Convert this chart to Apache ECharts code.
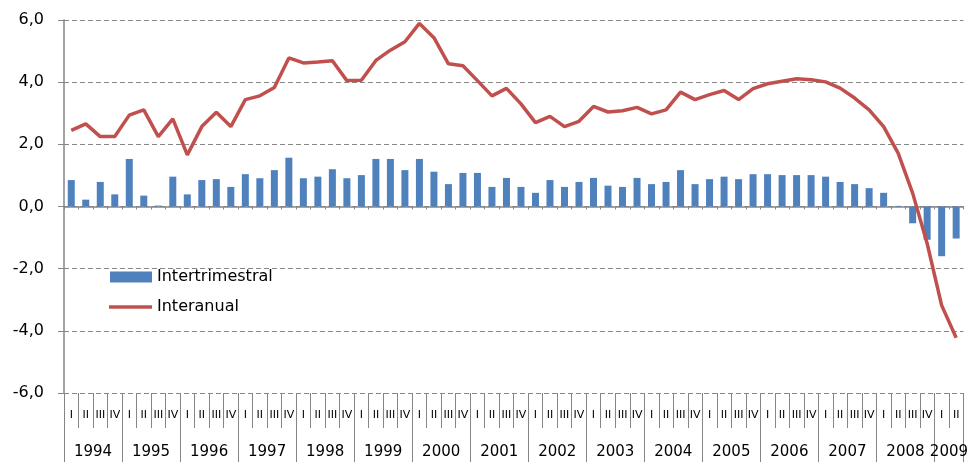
<!DOCTYPE html>
<html>
<head>
<meta charset="utf-8">
<script src="https://cdn.jsdelivr.net/npm/echarts@6/dist/echarts.min.js"></script>
<style>
html,body{margin:0;padding:0;background:#fff;}
#chart{width:971px;height:462px;}
</style>
</head>
<body>
<div id="chart"></div>
<script>
// ---- data ----
const years = ['1994','1995','1996','1997','1998','1999','2000','2001','2002','2003','2004','2005','2006','2007','2008','2009'];
const quarterNames = ['I','II','III','IV'];
const nQuarters = 62;

const intertrimestral = [
  0.85,0.22,0.79,0.39,1.53,0.35,0.03,0.96,
  0.39,0.85,0.88,0.63,1.04,0.91,1.17,1.57,
  0.91,0.96,1.20,0.91,1.01,1.53,1.53,1.17,
  1.53,1.12,0.72,1.08,1.08,0.63,0.92,0.63,
  0.44,0.85,0.63,0.79,0.92,0.67,0.63,0.92,
  0.72,0.79,1.17,0.72,0.88,0.96,0.88,1.04,
  1.04,1.01,1.01,1.01,0.96,0.79,0.72,0.59,
  0.44,0.02,-0.54,-1.07,-1.60,-1.03
];
const interanual = [
  2.45,2.66,2.25,2.25,2.94,3.11,2.25,2.82,
  1.66,2.57,3.03,2.57,3.44,3.56,3.83,4.78,
  4.62,4.65,4.69,4.05,4.06,4.70,5.03,5.30,
  5.89,5.43,4.59,4.53,4.05,3.56,3.80,3.30,
  2.70,2.90,2.57,2.74,3.22,3.04,3.08,3.19,
  2.98,3.11,3.68,3.44,3.60,3.73,3.44,3.79,
  3.95,4.03,4.11,4.08,4.01,3.81,3.49,3.11,
  2.57,1.72,0.43,-1.19,-3.18,-4.22
];
const yTicks = {min: -6, max: 6, interval: 2};

// category labels built from the arrays above
const catIds = [];
const quarterLabels = [];
const yearLabels = [];
for (let i = 0; i < nQuarters; i++) {
  const y = years[Math.floor(i / 4)];
  const q = quarterNames[i % 4];
  catIds.push(y + ' ' + q);
  quarterLabels.push(q);
  yearLabels.push(y);
}

const FONT = 'DejaVu Sans';
const GRAY = '#868686';
const gridLeft = 64, gridRight = 4;
const catW = (971 - gridLeft - gridRight) / nQuarters;

const chart = echarts.init(document.getElementById('chart'), null, {renderer: 'canvas'});
chart.setOption({
  animation: false,
  backgroundColor: '#ffffff',
  grid: {left: gridLeft, right: gridRight, top: 20, bottom: 69, containLabel: false},
  legend: [
    {
      left: 105, top: 264, orient: 'vertical', selectedMode: false,
      itemWidth: 42, itemHeight: 11,
      data: [{name: 'Intertrimestral', icon: 'rect'}],
      textStyle: {fontFamily: FONT, fontSize: 16, color: '#000'}
    },
    {
      left: 104, top: 294, orient: 'vertical', selectedMode: false,
      itemWidth: 43, itemHeight: 3.5,
      data: [{name: 'Interanual', icon: 'rect'}],
      textStyle: {fontFamily: FONT, fontSize: 16, color: '#000'}
    }
  ],
  xAxis: [
    {
      type: 'category', data: catIds, position: 'bottom',
      axisLine: {show: true, onZero: true, lineStyle: {color: GRAY, width: 1.5}},
      axisTick: {show: true, interval: 0, length: 3, lineStyle: {color: GRAY}},
      axisLabel: {show: false},
      splitLine: {show: false}
    },
    {
      type: 'category', data: quarterLabels, position: 'bottom',
      axisLine: {show: false, onZero: false},
      axisTick: {show: true, interval: 0, length: 35, lineStyle: {color: GRAY}},
      axisLabel: {show: true, interval: 0, margin: 17, fontFamily: FONT, fontSize: 11, color: '#000'},
      splitLine: {show: false}
    },
    {
      type: 'category', data: yearLabels, position: 'bottom',
      axisLine: {show: false, onZero: false},
      axisTick: {show: true, interval: function (i) { return i % 4 === 0; }, length: 69, lineStyle: {color: GRAY}},
      axisLabel: {
        show: true,
        interval: function (i) { return (i < 60 && i % 4 === 1) || i === 60; },
        padding: [0, 0, 0, catW],
        margin: 52, fontFamily: FONT, fontSize: 15, color: '#000'
      },
      splitLine: {show: false}
    }
  ],
  yAxis: {
    type: 'value', min: yTicks.min, max: yTicks.max, interval: yTicks.interval,
    axisLine: {show: true, lineStyle: {color: GRAY, width: 1.5}},
    axisTick: {show: true, length: 6, lineStyle: {color: GRAY}},
    axisLabel: {
      margin: 20, fontFamily: FONT, fontSize: 16, color: '#000',
      formatter: function (v) { return v.toFixed(1).replace('.', ','); }
    },
    splitLine: {show: true, lineStyle: {color: GRAY, type: [5, 3], width: 1}}
  },
  series: [
    {
      name: 'Intertrimestral', type: 'bar', xAxisIndex: 0, data: intertrimestral,
      barWidth: 7, itemStyle: {color: '#4F81BD'}, z: 2
    },
    {
      name: 'Interanual', type: 'line', xAxisIndex: 0, data: interanual,
      symbol: 'none', showSymbol: false, smooth: false,
      lineStyle: {color: '#C0504D', width: 3.5}, itemStyle: {color: '#C0504D'}, z: 3
    }
  ]
});
</script>
</body>
</html>
